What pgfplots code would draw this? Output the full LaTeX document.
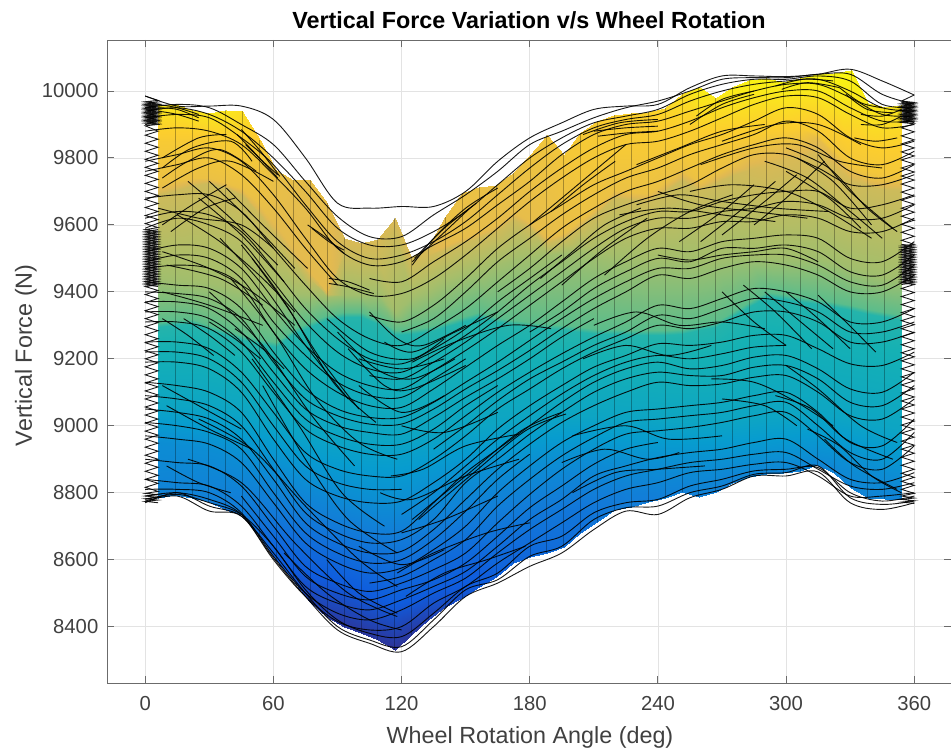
\documentclass[border=0pt]{standalone}
\usepackage{fontspec}
\setmainfont{Liberation Sans}
\usepackage{pgfplots}
\pgfplotsset{compat=1.18}
\definecolor{axc}{gray}{0.42}
\definecolor{txc}{gray}{0.25}
\pgfplotsset{L/.style={black,line width=0.68pt,smooth,tension=0.55,opacity=0.9,mark=none}}
\newcommand\cv[2][]{\addplot[L,#1] table[x expr=\coordindex*15,y index=0,row sep=crcr]{#2};}
\newcommand\fr[1]{\addplot[L] coordinates {#1};}
\begin{document}
\begin{tikzpicture}
\path[use as bounding box] (0,0) rectangle (713.25pt,565.5pt);
\begin{axis}[
  at={(80.25pt,53.25pt)},anchor=south west,scale only axis,width=633pt,height=482.25pt,
  xmin=-17.9,xmax=377.2,ymin=8231.5,ymax=10152.4,
  xtick={0,60,...,360},ytick={8400,8600,...,10000},
  scaled y ticks=false,
  grid=major,grid style={gray!22,line width=0.6pt},
  axis line style={axc,line width=0.7pt},
  tick style={axc,line width=0.7pt},
  major tick length=5pt,tick align=inside,
  tick label style={font=\fontsize{15.2}{16}\selectfont,text=txc},
  yticklabel style={xshift=-3pt},
  xticklabel style={yshift=-6.5pt},
  /pgf/number format/assume math mode=true,
  /pgf/number format/fixed,/pgf/number format/precision=0,
  /pgf/number format/1000 sep={},
  colormap={parula}{rgb255=(53,42,135) rgb255=(15,92,221) rgb255=(18,125,216) rgb255=(7,156,207) rgb255=(21,177,180) rgb255=(89,189,140) rgb255=(165,190,107) rgb255=(225,185,82) rgb255=(252,206,46) rgb255=(249,251,14)},
  point meta min=0,point meta max=1,
  clip=true
]
\addplot[surf,shader=interp,mesh/rows=12,mesh/cols=45,mesh/ordering=x varies,point meta=explicit] coordinates {
(6,8784)[.23](13.9,8793)[.23](21.8,8785)[.23](29.7,8772)[.22](37.6,8748)[.20](45.5,8733)[.18](53.5,8667)[.15](61.4,8600)[.12](69.3,8540)[.09](77.2,8474)[.05](85.1,8429)[.04](93,8398)[.03](100.9,8380)[.03](108.8,8360)[.03](116.7,8330)[.02](124.6,8375)[.03](132.5,8420)[.05](140.5,8459)[.07](148.4,8486)[.09](156.3,8519)[.11](164.2,8549)[.12](172.1,8590)[.14](180,8608)[.15](187.9,8620)[.16](195.8,8638)[.17](203.7,8680)[.18](211.6,8713)[.20](219.5,8749)[.21](227.5,8758)[.22](235.4,8773)[.22](243.3,8784)[.23](251.2,8802)[.23](259.1,8787)[.23](267,8802)[.23](274.9,8829)[.23](282.8,8847)[.24](290.7,8856)[.24](298.6,8860)[.24](306.5,8866)[.24](314.5,8883)[.24](322.4,8860)[.24](330.3,8814)[.24](338.2,8784)[.24](346.1,8781)[.24](354,8781)[.24]
(6,8790)[.23](13.9,8798)[.23](21.8,8790)[.23](29.7,8778)[.22](37.6,8752)[.20](45.5,8736)[.18](53.5,8670)[.15](61.4,8604)[.12](69.3,8585)[.12](77.2,8570)[.12](85.1,8560)[.12](93,8540)[.12](100.9,8520)[.12](108.8,8500)[.12](116.7,8480)[.12](124.6,8490)[.12](132.5,8510)[.12](140.5,8530)[.12](148.4,8550)[.12](156.3,8565)[.12](164.2,8575)[.14](172.1,8595)[.14](180,8612)[.15](187.9,8624)[.16](195.8,8642)[.17](203.7,8684)[.18](211.6,8717)[.20](219.5,8752)[.21](227.5,8761)[.22](235.4,8776)[.22](243.3,8787)[.23](251.2,8805)[.23](259.1,8790)[.23](267,8805)[.23](274.9,8832)[.23](282.8,8850)[.24](290.7,8859)[.24](298.6,8863)[.24](306.5,8869)[.24](314.5,8886)[.24](322.4,8863)[.24](330.3,8817)[.24](338.2,8787)[.24](346.1,8784)[.24](354,8784)[.24]
(6,8795)[.24](13.9,8802)[.24](21.8,8795)[.24](29.7,8782)[.23](37.6,8758)[.22](45.5,8740)[.21](53.5,8730)[.20](61.4,8722)[.20](69.3,8710)[.20](77.2,8700)[.20](85.1,8690)[.20](93,8670)[.20](100.9,8655)[.20](108.8,8645)[.20](116.7,8638)[.20](124.6,8645)[.20](132.5,8660)[.20](140.5,8675)[.20](148.4,8690)[.20](156.3,8695)[.20](164.2,8705)[.20](172.1,8715)[.20](180,8725)[.20](187.9,8735)[.20](195.8,8745)[.20](203.7,8760)[.20](211.6,8770)[.21](219.5,8790)[.22](227.5,8795)[.23](235.4,8800)[.23](243.3,8805)[.24](251.2,8812)[.24](259.1,8800)[.24](267,8812)[.24](274.9,8838)[.24](282.8,8855)[.25](290.7,8864)[.25](298.6,8868)[.25](306.5,8874)[.25](314.5,8890)[.25](322.4,8868)[.25](330.3,8822)[.25](338.2,8792)[.25](346.1,8790)[.25](354,8790)[.25]
(6,8950)[.28](13.9,8945)[.28](21.8,8940)[.28](29.7,8930)[.28](37.6,8915)[.28](45.5,8900)[.28](53.5,8885)[.28](61.4,8870)[.28](69.3,8850)[.28](77.2,8830)[.28](85.1,8815)[.28](93,8795)[.28](100.9,8780)[.28](108.8,8772)[.28](116.7,8768)[.28](124.6,8775)[.28](132.5,8795)[.28](140.5,8815)[.28](148.4,8835)[.28](156.3,8850)[.28](164.2,8865)[.28](172.1,8875)[.28](180,8880)[.28](187.9,8890)[.28](195.8,8895)[.28](203.7,8900)[.28](211.6,8900)[.28](219.5,8890)[.28](227.5,8885)[.28](235.4,8880)[.28](243.3,8880)[.28](251.2,8880)[.28](259.1,8880)[.28](267,8880)[.28](274.9,8885)[.28](282.8,8890)[.28](290.7,8895)[.28](298.6,8900)[.28](306.5,8905)[.28](314.5,8910)[.28](322.4,8900)[.28](330.3,8890)[.28](338.2,8875)[.28](346.1,8860)[.28](354,8850)[.28]
(6,9060)[.38](13.9,9060)[.38](21.8,9060)[.38](29.7,9060)[.38](37.6,9050)[.38](45.5,9040)[.38](53.5,9025)[.38](61.4,9010)[.38](69.3,8995)[.38](77.2,8980)[.38](85.1,8970)[.38](93,8962)[.38](100.9,8960)[.38](108.8,8960)[.38](116.7,8960)[.38](124.6,8968)[.38](132.5,8975)[.38](140.5,8985)[.38](148.4,8995)[.38](156.3,9000)[.38](164.2,9010)[.38](172.1,9015)[.38](180,9020)[.38](187.9,9025)[.38](195.8,9030)[.38](203.7,9030)[.38](211.6,9030)[.38](219.5,9025)[.38](227.5,9020)[.38](235.4,9020)[.38](243.3,9015)[.38](251.2,9010)[.38](259.1,9010)[.38](267,9010)[.38](274.9,9015)[.38](282.8,9020)[.38](290.7,9025)[.38](298.6,9030)[.38](306.5,9035)[.38](314.5,9035)[.38](322.4,9030)[.38](330.3,9020)[.38](338.2,9010)[.38](346.1,9000)[.38](354,8990)[.38]
(6,9295)[.47](13.9,9300)[.47](21.8,9305)[.47](29.7,9285)[.47](37.6,9270)[.47](45.5,9255)[.47](53.5,9245)[.47](61.4,9235)[.47](69.3,9275)[.47](77.2,9295)[.47](85.1,9315)[.47](93,9325)[.47](100.9,9325)[.47](108.8,9305)[.47](116.7,9270)[.47](124.6,9275)[.47](132.5,9280)[.47](140.5,9295)[.47](148.4,9310)[.47](156.3,9325)[.47](164.2,9310)[.47](172.1,9300)[.47](180,9295)[.47](187.9,9290)[.47](195.8,9285)[.47](203.7,9280)[.47](211.6,9275)[.47](219.5,9275)[.47](227.5,9270)[.47](235.4,9270)[.47](243.3,9270)[.47](251.2,9275)[.47](259.1,9285)[.47](267,9295)[.47](274.9,9325)[.47](282.8,9355)[.47](290.7,9385)[.47](298.6,9380)[.47](306.5,9370)[.47](314.5,9365)[.47](322.4,9355)[.47](330.3,9345)[.47](338.2,9335)[.47](346.1,9325)[.47](354,9315)[.47]
(6,9310)[.56](13.9,9315)[.56](21.8,9320)[.56](29.7,9300)[.56](37.6,9285)[.56](45.5,9270)[.56](53.5,9260)[.56](61.4,9250)[.56](69.3,9290)[.56](77.2,9310)[.56](85.1,9330)[.56](93,9340)[.56](100.9,9340)[.56](108.8,9320)[.56](116.7,9285)[.56](124.6,9290)[.56](132.5,9295)[.56](140.5,9310)[.56](148.4,9325)[.56](156.3,9340)[.56](164.2,9325)[.56](172.1,9315)[.56](180,9310)[.56](187.9,9305)[.56](195.8,9300)[.56](203.7,9295)[.56](211.6,9290)[.56](219.5,9290)[.56](227.5,9285)[.56](235.4,9285)[.56](243.3,9285)[.56](251.2,9290)[.56](259.1,9300)[.56](267,9310)[.56](274.9,9340)[.56](282.8,9370)[.56](290.7,9400)[.56](298.6,9395)[.56](306.5,9385)[.56](314.5,9380)[.56](322.4,9370)[.56](330.3,9360)[.56](338.2,9350)[.56](346.1,9340)[.56](354,9330)[.56]
(6,9440)[.66](13.9,9435)[.66](21.8,9430)[.66](29.7,9425)[.66](37.6,9418)[.66](45.5,9410)[.66](53.5,9405)[.66](61.4,9400)[.66](69.3,9395)[.66](77.2,9390)[.66](85.1,9385)[.66](93,9390)[.66](100.9,9392)[.66](108.8,9395)[.66](116.7,9340)[.66](124.6,9380)[.66](132.5,9400)[.66](140.5,9425)[.66](148.4,9445)[.66](156.3,9460)[.66](164.2,9480)[.66](172.1,9495)[.66](180,9500)[.66](187.9,9510)[.66](195.8,9515)[.66](203.7,9520)[.66](211.6,9510)[.66](219.5,9500)[.66](227.5,9495)[.66](235.4,9490)[.66](243.3,9490)[.66](251.2,9490)[.66](259.1,9490)[.66](267,9495)[.66](274.9,9500)[.66](282.8,9505)[.66](290.7,9500)[.66](298.6,9500)[.66](306.5,9500)[.66](314.5,9500)[.66](322.4,9490)[.66](330.3,9470)[.66](338.2,9455)[.66](346.1,9445)[.66](354,9440)[.66]
(6,9690)[.74](13.9,9700)[.74](21.8,9715)[.74](29.7,9725)[.74](37.6,9710)[.74](45.5,9690)[.74](53.5,9630)[.74](61.4,9570)[.74](69.3,9505)[.74](77.2,9440)[.74](85.1,9395)[.74](93,9520)[.74](100.9,9510)[.74](108.8,9510)[.74](116.7,9580)[.74](124.6,9480)[.74](132.5,9500)[.74](140.5,9525)[.74](148.4,9545)[.74](156.3,9560)[.74](164.2,9580)[.74](172.1,9615)[.74](180,9590)[.74](187.9,9545)[.74](195.8,9560)[.74](203.7,9595)[.74](211.6,9635)[.74](219.5,9680)[.74](227.5,9675)[.74](235.4,9670)[.74](243.3,9700)[.74](251.2,9735)[.74](259.1,9705)[.74](267,9725)[.74](274.9,9745)[.74](282.8,9765)[.75](290.7,9780)[.76](298.6,9795)[.76](306.5,9800)[.76](314.5,9820)[.76](322.4,9775)[.76](330.3,9730)[.75](338.2,9715)[.74](346.1,9705)[.74](354,9705)[.74]
(6,9720)[.82](13.9,9730)[.82](21.8,9740)[.82](29.7,9740)[.82](37.6,9725)[.82](45.5,9710)[.82](53.5,9660)[.81](61.4,9600)[.79](69.3,9530)[.79](77.2,9460)[.79](85.1,9400)[.79](93,9535)[.75](100.9,9530)[.75](108.8,9540)[.75](116.7,9600)[.75](124.6,9490)[.75](132.5,9510)[.75](140.5,9540)[.79](148.4,9560)[.80](156.3,9580)[.80](164.2,9600)[.80](172.1,9640)[.80](180,9610)[.80](187.9,9560)[.80](195.8,9575)[.81](203.7,9615)[.82](211.6,9655)[.82](219.5,9704)[.82](227.5,9698)[.82](235.4,9695)[.82](243.3,9728)[.82](251.2,9764)[.82](259.1,9728)[.82](267,9755)[.82](274.9,9779)[.82](282.8,9800)[.80](290.7,9815)[.80](298.6,9830)[.80](306.5,9840)[.80](314.5,9860)[.80](322.4,9809)[.80](330.3,9764)[.81](338.2,9743)[.82](346.1,9735)[.82](354,9734)[.82]
(6,9850)[.87](13.9,9850)[.87](21.8,9850)[.87](29.7,9850)[.87](37.6,9840)[.87](45.5,9830)[.87](53.5,9800)[.85](61.4,9740)[.81](69.3,9720)[.80](77.2,9720)[.80](85.1,9650)[.80](93,9550)[.76](100.9,9540)[.76](108.8,9550)[.76](116.7,9610)[.76](124.6,9500)[.76](132.5,9525)[.76](140.5,9615)[.82](148.4,9680)[.82](156.3,9700)[.82](164.2,9710)[.82](172.1,9740)[.82](180,9790)[.83](187.9,9850)[.84](195.8,9800)[.85](203.7,9800)[.86](211.6,9810)[.86](219.5,9815)[.86](227.5,9815)[.86](235.4,9810)[.86](243.3,9820)[.86](251.2,9850)[.88](259.1,9830)[.86](267,9830)[.86](274.9,9850)[.87](282.8,9870)[.88](290.7,9880)[.88](298.6,9880)[.88](306.5,9890)[.88](314.5,9875)[.86](322.4,9825)[.85](330.3,9780)[.85](338.2,9760)[.85](346.1,9750)[.85](354,9750)[.85]
(6,9958)[.95](13.9,9962)[.95](21.8,9943)[.95](29.7,9934)[.95](37.6,9943)[.95](45.5,9940)[.93](53.5,9853)[.88](61.4,9764)[.82](69.3,9734)[.81](77.2,9734)[.81](85.1,9665)[.80](93,9560)[.76](100.9,9545)[.76](108.8,9558)[.76](116.7,9620)[.76](124.6,9504)[.76](132.5,9534)[.78](140.5,9624)[.80](148.4,9695)[.82](156.3,9713)[.82](164.2,9719)[.82](172.1,9755)[.83](180,9809)[.84](187.9,9869)[.85](195.8,9809)[.86](203.7,9874)[.87](211.6,9911)[.88](219.5,9928)[.89](227.5,9934)[.90](235.4,9938)[.90](243.3,9949)[.91](251.2,9991)[.93](259.1,10013)[.97](267,9979)[.95](274.9,10013)[.97](282.8,10033)[.98](290.7,10040)[.98](298.6,10028)[.98](306.5,10039)[.98](314.5,10051)[.99](322.4,10054)[.99](330.3,10063)[.99](338.2,9964)[.96](346.1,9953)[.95](354,9958)[.95]
};
\addplot[black,opacity=.3,line width=.35pt,unbounded coords=jump] coordinates {
(13.9,8793)(13.9,9962)(nan,nan)(21.8,8785)(21.8,9943)(nan,nan)(29.7,8772)(29.7,9934)(nan,nan)(37.6,8748)(37.6,9943)(nan,nan)(45.5,8733)(45.5,9940)(nan,nan)(53.5,8667)(53.5,9853)(nan,nan)(61.4,8600)(61.4,9764)(nan,nan)(69.3,8540)(69.3,9734)(nan,nan)(77.2,8474)(77.2,9734)(nan,nan)(85.1,8429)(85.1,9665)(nan,nan)(93,8398)(93,9560)(nan,nan)(100.9,8380)(100.9,9545)(nan,nan)(108.8,8360)(108.8,9558)(nan,nan)(116.7,8330)(116.7,9620)(nan,nan)(124.6,8375)(124.6,9504)(nan,nan)(132.5,8420)(132.5,9534)(nan,nan)(140.5,8459)(140.5,9624)(nan,nan)(148.4,8486)(148.4,9695)(nan,nan)(156.3,8519)(156.3,9713)(nan,nan)(164.2,8549)(164.2,9719)(nan,nan)(172.1,8590)(172.1,9755)(nan,nan)(180,8608)(180,9809)(nan,nan)(187.9,8620)(187.9,9869)(nan,nan)(195.8,8638)(195.8,9809)(nan,nan)(203.7,8680)(203.7,9874)(nan,nan)(211.6,8713)(211.6,9911)(nan,nan)(219.5,8749)(219.5,9928)(nan,nan)(227.5,8758)(227.5,9934)(nan,nan)(235.4,8773)(235.4,9938)(nan,nan)(243.3,8784)(243.3,9949)(nan,nan)(251.2,8802)(251.2,9991)(nan,nan)(259.1,8787)(259.1,10013)(nan,nan)(267,8802)(267,9979)(nan,nan)(274.9,8829)(274.9,10013)(nan,nan)(282.8,8847)(282.8,10033)(nan,nan)(290.7,8856)(290.7,10040)(nan,nan)(298.6,8860)(298.6,10028)(nan,nan)(306.5,8866)(306.5,10039)(nan,nan)(314.5,8883)(314.5,10051)(nan,nan)(322.4,8860)(322.4,10054)(nan,nan)(330.3,8814)(330.3,10063)(nan,nan)(338.2,8784)(338.2,9964)(nan,nan)(346.1,8781)(346.1,9953)
};
% combs at both ends
\addplot[black,line width=0.65pt,opacity=.9] coordinates {
(0,9985)(6,9972)(0,9968)(6,9964)(0,9960)(6,9956)(0,9952)(6,9948)(0,9944)(6,9940)(0,9936)(6,9932)(0,9928)(6,9924)(0,9920)(6,9916)(0,9912)(6,9908)(0,9904)(6,9900)(0,9896)(6,9880)(0,9868)(6,9856)(0,9844)(6,9832)(0,9820)(6,9808)(0,9796)(6,9784)(0,9772)(6,9760)(0,9748)(6,9736)(0,9724)(6,9712)(0,9700)(6,9688)(0,9676)(6,9664)(0,9652)(6,9640)(0,9628)(6,9616)(0,9604)(6,9592)(0,9586)(6,9581)(0,9576)(6,9571)(0,9566)(6,9561)(0,9556)(6,9551)(0,9546)(6,9541)(0,9536)(6,9531)(0,9526)(6,9521)(0,9516)(6,9511)(0,9506)(6,9501)(0,9496)(6,9491)(0,9486)(6,9481)(0,9476)(6,9471)(0,9466)(6,9461)(0,9456)(6,9451)(0,9446)(6,9441)(0,9436)(6,9431)(0,9426)(6,9421)(0,9416)(6,9404)(0,9392)(6,9380)(0,9368)(6,9356)(0,9344)(6,9332)(0,9320)(6,9308)(0,9296)(6,9284)(0,9272)(6,9260)(0,9248)(6,9236)(0,9224)(6,9212)(0,9200)(6,9188)(0,9176)(6,9164)(0,9152)(6,9140)(0,9128)(6,9116)(0,9104)(6,9092)(0,9080)(6,9068)(0,9056)(6,9044)(0,9032)(6,9020)(0,9008)(6,8996)(0,8984)(6,8972)(0,8960)(6,8948)(0,8936)(6,8924)(0,8912)(6,8900)(0,8888)(6,8876)(0,8864)(6,8852)(0,8840)(6,8828)(0,8816)(6,8804)(0,8798)(6,8794)(0,8790)(6,8786)(0,8782)(6,8778)(0,8774)(6,8770)
};
\addplot[black,line width=0.65pt,opacity=.9] coordinates {
(6,9586)(0,9581)(6,9576)(0,9571)(6,9566)(0,9561)(6,9556)(0,9551)(6,9546)(0,9541)(6,9536)(0,9531)(6,9526)(0,9521)(6,9516)(0,9511)(6,9506)(0,9501)(6,9496)(0,9491)(6,9486)(0,9481)(6,9476)(0,9471)(6,9466)(0,9461)(6,9456)(0,9451)(6,9446)(0,9441)(6,9436)(0,9431)(6,9426)(0,9421)(6,9416)
};
\addplot[black,line width=0.65pt,opacity=.9] coordinates {
(6,9968)(0,9964)(6,9960)(0,9956)(6,9952)(0,9948)(6,9944)(0,9940)(6,9936)(0,9932)(6,9928)(0,9924)(6,9920)(0,9916)(6,9912)(0,9908)(6,9904)(0,9900)
};
\addplot[black,line width=0.65pt,opacity=.9] coordinates {
(360,9988)(354,9970)(360,9966)(354,9962)(360,9958)(354,9954)(360,9950)(354,9946)(360,9942)(354,9938)(360,9934)(354,9930)(360,9926)(354,9922)(360,9918)(354,9914)(360,9910)(354,9906)(360,9902)(354,9890)(360,9878)(354,9866)(360,9854)(354,9842)(360,9830)(354,9818)(360,9806)(354,9794)(360,9782)(354,9770)(360,9758)(354,9746)(360,9734)(354,9722)(360,9710)(354,9698)(360,9686)(354,9674)(360,9662)(354,9650)(360,9638)(354,9626)(360,9614)(354,9602)(360,9590)(354,9578)(360,9566)(354,9554)(360,9542)(354,9537)(360,9532)(354,9527)(360,9522)(354,9517)(360,9512)(354,9507)(360,9502)(354,9497)(360,9492)(354,9487)(360,9482)(354,9477)(360,9472)(354,9467)(360,9462)(354,9457)(360,9452)(354,9447)(360,9442)(354,9437)(360,9432)(354,9427)(360,9422)(354,9410)(360,9398)(354,9386)(360,9374)(354,9362)(360,9350)(354,9338)(360,9326)(354,9314)(360,9302)(354,9290)(360,9278)(354,9266)(360,9254)(354,9242)(360,9230)(354,9218)(360,9206)(354,9194)(360,9182)(354,9170)(360,9158)(354,9146)(360,9134)(354,9122)(360,9110)(354,9098)(360,9086)(354,9074)(360,9062)(354,9050)(360,9038)(354,9026)(360,9014)(354,9002)(360,8990)(354,8978)(360,8966)(354,8954)(360,8942)(354,8930)(360,8918)(354,8906)(360,8894)(354,8882)(360,8870)(354,8858)(360,8846)(354,8834)(360,8822)(354,8810)(360,8798)(354,8790)(360,8784)(354,8780)(360,8776)(354,8772)(360,8768)
};
\addplot[black,line width=0.65pt,opacity=.9] coordinates {
(354,9542)(360,9537)(354,9532)(360,9527)(354,9522)(360,9517)(354,9512)(360,9507)(354,9502)(360,9497)(354,9492)(360,9487)(354,9482)(360,9477)(354,9472)(360,9467)(354,9462)(360,9457)(354,9452)(360,9447)(354,9442)(360,9437)(354,9432)(360,9427)(354,9422)
};
\addplot[black,line width=0.65pt,opacity=.9] coordinates {
(354,9966)(360,9962)(354,9958)(360,9954)(354,9950)(360,9946)(354,9942)(360,9938)(354,9934)(360,9930)(354,9926)(360,9922)(354,9918)(360,9914)(354,9910)(360,9906)
};
% full curves, one value every 15 deg
\cv{9985\\9955\\9955\\9955\\9915\\9800\\9665\\9650\\9655\\9655\\9700\\9790\\9860\\9905\\9945\\9955\\9960\\10010\\10045\\10045\\10043\\10050\\10065\\10030\\9988\\}
\cv{9950\\9960\\9950\\9900\\9840\\9730\\9625\\9565\\9565\\9630\\9690\\9760\\9840\\9880\\9920\\9950\\9970\\10000\\10035\\10040\\10040\\10050\\10050\\9990\\9960\\}
\cv{9940\\9950\\9930\\9880\\9800\\9700\\9590\\9540\\9540\\9580\\9640\\9720\\9800\\9860\\9905\\9925\\9945\\9990\\10020\\10035\\10035\\10045\\10030\\9960\\9950\\}
\cv{9920\\9930\\9920\\9860\\9780\\9660\\9550\\9500\\9510\\9550\\9610\\9690\\9770\\9840\\9890\\9915\\9930\\9970\\10000\\10020\\10030\\10035\\10000\\9950\\9940\\}
\cv{9880\\9890\\9880\\9840\\9750\\9650\\9530\\9480\\9490\\9540\\9590\\9660\\9730\\9810\\9870\\9900\\9910\\9940\\9970\\10000\\10020\\10020\\9980\\9930\\9925\\}
\cv[restrict x to domain=100:360]{9840\\9860\\9860\\9810\\9720\\9590\\9480\\9440\\9430\\9490\\9550\\9620\\9700\\9770\\9830\\9870\\9880\\9910\\9950\\9980\\10000\\10000\\9950\\9910\\9910\\}
\cv{9790\\9810\\9830\\9790\\9690\\9560\\9440\\9390\\9395\\9440\\9510\\9590\\9670\\9740\\9800\\9840\\9850\\9880\\9920\\9960\\9985\\9980\\9930\\9890\\9900\\}
\cv[restrict x to domain=0:90]{9760\\9780\\9800\\9750\\9650\\9530\\9420\\9360\\9350\\9400\\9470\\9560\\9640\\9700\\9760\\9800\\9830\\9860\\9900\\9940\\9970\\9960\\9900\\9860\\9880\\}
\cv[restrict x to domain=100:360]{9720\\9740\\9760\\9710\\9600\\9500\\9400\\9330\\9310\\9360\\9440\\9530\\9600\\9660\\9720\\9760\\9800\\9840\\9870\\9910\\9950\\9930\\9860\\9830\\9850\\}
\cv[restrict x to domain=120:360]{9700\\9700\\9720\\9660\\9560\\9460\\9360\\9300\\9280\\9320\\9400\\9490\\9560\\9630\\9690\\9740\\9770\\9810\\9840\\9870\\9910\\9880\\9800\\9780\\9820\\}
\cv{9680\\9690\\9690\\9640\\9530\\9420\\9320\\9260\\9240\\9290\\9350\\9430\\9510\\9590\\9650\\9700\\9730\\9770\\9810\\9840\\9860\\9830\\9760\\9740\\9780\\}
\cv[restrict x to domain=160:360]{9650\\9670\\9660\\9610\\9500\\9380\\9290\\9230\\9210\\9260\\9320\\9400\\9470\\9550\\9620\\9660\\9690\\9720\\9770\\9810\\9810\\9770\\9720\\9720\\9750\\}
\cv[restrict x to domain=0:200]{9620\\9640\\9630\\9580\\9470\\9350\\9260\\9200\\9185\\9230\\9290\\9370\\9440\\9510\\9590\\9640\\9650\\9670\\9700\\9740\\9760\\9730\\9690\\9700\\9720\\}
\cv{9590\\9620\\9600\\9550\\9430\\9310\\9220\\9170\\9160\\9210\\9270\\9340\\9420\\9490\\9560\\9610\\9640\\9640\\9670\\9690\\9700\\9700\\9650\\9660\\9690\\}
\cv[restrict x to domain=100:360]{9560\\9580\\9560\\9510\\9390\\9270\\9190\\9150\\9140\\9190\\9250\\9320\\9390\\9460\\9530\\9590\\9620\\9620\\9640\\9650\\9670\\9660\\9620\\9620\\9660\\}
\cv{9520\\9540\\9530\\9470\\9350\\9240\\9160\\9120\\9110\\9165\\9225\\9290\\9360\\9430\\9500\\9560\\9590\\9590\\9610\\9610\\9630\\9620\\9580\\9580\\9620\\}
\cv[restrict x to domain=0:150]{9490\\9510\\9500\\9440\\9310\\9210\\9130\\9090\\9085\\9140\\9200\\9260\\9330\\9400\\9470\\9530\\9560\\9560\\9580\\9590\\9610\\9590\\9540\\9530\\9580\\}
\cv{9470\\9480\\9470\\9420\\9280\\9170\\9100\\9060\\9055\\9110\\9175\\9240\\9300\\9370\\9440\\9490\\9530\\9520\\9550\\9560\\9570\\9560\\9500\\9490\\9550\\}
\cv[restrict x to domain=170:360]{9450\\9450\\9440\\9380\\9250\\9140\\9070\\9040\\9035\\9090\\9150\\9210\\9280\\9340\\9410\\9460\\9500\\9490\\9530\\9530\\9540\\9520\\9460\\9450\\9510\\}
\cv{9430\\9420\\9410\\9350\\9220\\9110\\9050\\9025\\9025\\9070\\9130\\9190\\9255\\9320\\9380\\9430\\9470\\9470\\9500\\9510\\9510\\9480\\9430\\9420\\9480\\}
\cv{9400\\9395\\9380\\9320\\9190\\9080\\9030\\9005\\9005\\9050\\9110\\9165\\9225\\9290\\9350\\9400\\9450\\9440\\9470\\9490\\9480\\9450\\9400\\9400\\9450\\}
\cv[restrict x to domain=0:210]{9370\\9370\\9350\\9280\\9160\\9050\\9000\\8980\\8975\\9025\\9085\\9140\\9200\\9265\\9320\\9370\\9420\\9410\\9440\\9470\\9450\\9420\\9370\\9370\\9420\\}
\cv[restrict x to domain=0:170]{9340\\9340\\9320\\9250\\9130\\9020\\8970\\8945\\8945\\8990\\9060\\9120\\9180\\9240\\9290\\9340\\9390\\9380\\9410\\9440\\9430\\9400\\9340\\9340\\9390\\}
\cv{9310\\9310\\9290\\9220\\9100\\8990\\8940\\8915\\8915\\8960\\9030\\9100\\9160\\9215\\9265\\9310\\9360\\9350\\9380\\9410\\9400\\9370\\9310\\9310\\9350\\}
\cv[restrict x to domain=130:360]{9280\\9280\\9260\\9190\\9070\\8960\\8905\\8880\\8880\\8930\\9000\\9075\\9140\\9190\\9240\\9280\\9330\\9320\\9350\\9380\\9370\\9340\\9280\\9280\\9310\\}
\cv{9250\\9250\\9230\\9160\\9040\\8920\\8870\\8850\\8850\\8900\\8970\\9050\\9110\\9170\\9220\\9260\\9300\\9290\\9310\\9340\\9340\\9310\\9250\\9250\\9280\\}
\cv[restrict x to domain=0:130]{9220\\9220\\9200\\9130\\9000\\8880\\8830\\8810\\8810\\8860\\8930\\9020\\9085\\9140\\9200\\9235\\9270\\9270\\9280\\9300\\9300\\9270\\9220\\9210\\9250\\}
\cv{9190\\9190\\9170\\9100\\8960\\8840\\8790\\8770\\8775\\8830\\8900\\8990\\9060\\9120\\9175\\9210\\9245\\9240\\9250\\9270\\9270\\9230\\9185\\9180\\9220\\}
\cv[restrict x to domain=110:300]{9160\\9160\\9140\\9070\\8930\\8800\\8750\\8730\\8735\\8800\\8880\\8960\\9030\\9095\\9150\\9190\\9210\\9200\\9215\\9235\\9240\\9200\\9150\\9140\\9190\\}
\cv{9130\\9120\\9100\\9040\\8900\\8770\\8710\\8680\\8685\\8770\\8860\\8930\\9000\\9070\\9130\\9170\\9190\\9170\\9180\\9205\\9210\\9170\\9110\\9100\\9160\\}
\cv{9090\\9080\\9060\\9000\\8870\\8740\\8680\\8650\\8660\\8720\\8830\\8900\\8975\\9040\\9100\\9140\\9160\\9150\\9150\\9175\\9180\\9140\\9070\\9060\\9120\\}
\cv{9050\\9040\\9020\\8960\\8840\\8710\\8650\\8620\\8625\\8690\\8780\\8870\\8945\\9010\\9060\\9100\\9130\\9120\\9125\\9145\\9150\\9100\\9030\\9020\\9080\\}
\cv[restrict x to domain=0:180]{9010\\9000\\8980\\8930\\8800\\8680\\8620\\8590\\8600\\8660\\8745\\8840\\8915\\8980\\9030\\9070\\9090\\9090\\9100\\9120\\9125\\9070\\8990\\8980\\9050\\}
\cv{8970\\8960\\8945\\8890\\8770\\8650\\8590\\8560\\8575\\8630\\8700\\8800\\8880\\8950\\9000\\9040\\9050\\9060\\9070\\9090\\9100\\9040\\8950\\8940\\9020\\}
\cv[restrict x to domain=100:360]{8930\\8920\\8910\\8850\\8730\\8610\\8555\\8530\\8550\\8600\\8660\\8760\\8840\\8910\\8965\\9010\\9020\\9030\\9040\\9060\\9070\\9000\\8920\\8900\\8980\\}
\cv{8900\\8890\\8880\\8820\\8700\\8580\\8530\\8505\\8530\\8570\\8620\\8710\\8795\\8870\\8930\\8975\\8985\\8995\\9010\\9030\\9040\\8970\\8890\\8870\\8940\\}
\cv[restrict x to domain=40:250]{8870\\8860\\8850\\8790\\8670\\8550\\8500\\8480\\8510\\8540\\8590\\8670\\8755\\8820\\8885\\8930\\8950\\8960\\8970\\8990\\9000\\8940\\8860\\8850\\8900\\}
\cv{8840\\8830\\8820\\8760\\8640\\8520\\8470\\8450\\8480\\8520\\8565\\8640\\8720\\8780\\8850\\8880\\8905\\8920\\8930\\8950\\8960\\8900\\8840\\8830\\8860\\}
\cv{8810\\8810\\8800\\8740\\8610\\8500\\8440\\8420\\8450\\8500\\8545\\8620\\8690\\8750\\8810\\8850\\8870\\8890\\8900\\8915\\8920\\8870\\8820\\8810\\8830\\}
\cv{8790\\8800\\8780\\8735\\8600\\8490\\8415\\8390\\8400\\8470\\8520\\8590\\8650\\8710\\8770\\8810\\8830\\8860\\8870\\8885\\8890\\8850\\8790\\8790\\8800\\}
\cv{8775\\8790\\8745\\8730\\8605\\8490\\8390\\8350\\8325\\8400\\8490\\8530\\8580\\8620\\8690\\8745\\8735\\8785\\8810\\8850\\8850\\8862\\8770\\8750\\8770\\}
\cv{8770\\8800\\8760\\8730\\8620\\8500\\8400\\8360\\8340\\8420\\8510\\8540\\8610\\8640\\8720\\8755\\8760\\8800\\8820\\8855\\8860\\8880\\8785\\8765\\8775\\}
\cv{8780\\8795\\8770\\8735\\8640\\8510\\8420\\8380\\8370\\8440\\8520\\8560\\8640\\8670\\8740\\8770\\8780\\8820\\8840\\8865\\8870\\8875\\8800\\8775\\8790\\}
% short pieces
\fr{(6,9950)(15,9945)(25,9920)}\fr{(6,9940)(15,9930)(25,9910)}\fr{(6,9960)(15,9950)(25,9930)}
\fr{(43,9870)(52,9810)(62,9740)}\fr{(45,9885)(54,9820)(63,9745)}\fr{(47,9840)(55,9790)(62,9750)}
\fr{(8,9800)(25,9860)(38,9870)}\fr{(8,9770)(22,9830)(40,9850)(50,9790)}\fr{(8,9740)(20,9790)(35,9825)(52,9760)}\fr{(8,9710)(25,9770)(40,9790)(60,9730)}
\fr{(76,9600)(85,9560)(93,9515)}\fr{(78,9590)(86,9550)(93,9525)}\fr{(86,9440)(95,9430)(105,9405)}\fr{(86,9425)(95,9415)(107,9395)}
\fr{(125,9480)(135,9560)(150,9650)(165,9710)}\fr{(125,9490)(137,9560)(152,9650)}\fr{(126,9500)(140,9590)(155,9665)}
\fr{(205,9870)(222,9905)(240,9915)}\fr{(210,9880)(225,9890)(240,9895)}\fr{(212,9865)(226,9875)(240,9880)}
\fr{(258,9925)(270,9975)(285,10000)}\fr{(255,9900)(270,9960)(285,9990)}
\fr{(295,10015)(308,10035)(322,10030)}\fr{(298,10005)(310,10025)(325,10010)}
\fr{(325,10010)(335,9965)(345,9950)}\fr{(328,9990)(338,9945)(350,9935)}
\fr{(335,9930)(345,9925)(354,9945)}\fr{(335,9900)(345,9900)(354,9925)}\fr{(332,9860)(342,9850)(352,9860)}
\fr{(240,9510)(255,9495)(270,9510)(285,9520)(300,9530)(315,9490)}
\fr{(280,9420)(295,9340)(312,9230)}\fr{(290,9400)(305,9320)(322,9230)}\fr{(300,9400)(315,9320)(330,9230)}\fr{(315,9390)(328,9310)(342,9220)}\fr{(270,9400)(285,9310)(300,9240)}
\fr{(8,9320)(20,9270)(32,9210)}\fr{(18,9320)(30,9270)(42,9210)}\fr{(30,9310)(42,9260)(54,9200)}\fr{(42,9290)(55,9230)(65,9170)}
\fr{(250,9550)(270,9640)(285,9720)}\fr{(260,9550)(278,9640)(295,9730)}\fr{(270,9570)(290,9670)(305,9750)}\fr{(285,9600)(300,9680)(318,9790)}
\fr{(305,9800)(322,9730)(340,9600)}\fr{(315,9810)(330,9700)(350,9590)}\fr{(300,9760)(320,9680)(335,9590)}
\fr{(8,9600)(22,9660)(38,9720)}\fr{(12,9580)(28,9650)(42,9680)}
\fr{(20,9730)(40,9620)(62,9480)}\fr{(30,9730)(48,9620)(70,9470)}\fr{(38,9710)(55,9600)(76,9470)}
\fr{(100,9200)(120,9170)(140,9200)}\fr{(100,9120)(120,9040)(140,9090)}\fr{(100,8640)(120,8585)(140,8630)}
\fr{(125,8720)(150,8850)(176,8985)(195,9040)}\fr{(128,8720)(152,8850)(178,8985)(197,9035)}
\fr{(35,9560)(55,9420)(75,9240)(95,9080)}\fr{(45,9540)(62,9400)(82,9200)(100,9050)}\fr{(50,9500)(68,9340)(88,9130)(108,9010)}
\fr{(40,9440)(60,9280)(80,9080)(100,8950)(118,8900)}\fr{(30,9400)(55,9240)(78,9030)(98,8880)}\fr{(50,9200)(72,9000)(92,8800)(112,8700)}
\fr{(55,9120)(75,8900)(95,8720)(118,8620)}\fr{(25,9020)(50,8930)(75,8760)(100,8600)(118,8520)}\fr{(20,8900)(45,8830)(70,8650)(95,8500)(118,8430)}
\fr{(10,8880)(25,8830)(40,8800)}\fr{(8,9120)(25,9060)(45,8990)}\fr{(10,9060)(30,8990)(50,8930)}
\fr{(65,8620)(85,8500)(105,8420)(120,8390)}\fr{(85,8600)(100,8500)(118,8440)}
\fr{(8,9520)(30,9470)(50,9400)(70,9300)}\fr{(10,9480)(35,9440)(55,9360)}\fr{(8,9400)(30,9360)(55,9300)}
\fr{(15,9630)(35,9550)(55,9440)(70,9340)}\fr{(25,9680)(45,9570)(65,9430)}\fr{(6,9650)(25,9620)(45,9600)(60,9530)}
\fr{(85,9320)(105,9220)(125,9200)(140,9260)}\fr{(90,9280)(108,9170)(125,9140)(145,9200)}\fr{(95,9230)(112,9120)(125,9110)(150,9180)}
\fr{(105,9340)(118,9260)(130,9240)(150,9300)}\fr{(112,9250)(125,9220)(145,9280)(165,9340)}\fr{(125,9190)(145,9250)(170,9300)(190,9290)}
\fr{(120,9000)(140,8980)(165,9040)}\fr{(115,8850)(130,8870)(150,8940)(175,8975)}\fr{(110,8800)(125,8780)(150,8850)(175,8900)}
\fr{(120,8680)(140,8720)(165,8790)}\fr{(118,8560)(135,8620)(160,8680)(180,8710)}\fr{(122,8490)(140,8560)(160,8600)(178,8640)}
\fr{(180,9600)(195,9680)(210,9760)(225,9840)}\fr{(190,9640)(205,9720)(220,9790)}\fr{(185,9440)(200,9520)(215,9600)(232,9650)}
\fr{(195,9420)(215,9530)(235,9620)}\fr{(215,9450)(235,9560)(255,9640)(275,9690)}\fr{(230,9660)(250,9690)(270,9670)(295,9650)(320,9640)}
\fr{(240,9700)(260,9660)(285,9640)(310,9620)}\fr{(222,9630)(245,9650)(270,9630)(295,9610)}\fr{(255,9700)(275,9720)(300,9700)(320,9640)(340,9560)}
\fr{(290,9790)(310,9740)(330,9640)(345,9560)}\fr{(300,9830)(320,9770)(338,9650)(352,9580)}\fr{(260,9780)(285,9830)(305,9840)(325,9790)(345,9770)}
\fr{(270,9850)(295,9900)(315,9900)(335,9840)}\fr{(230,9780)(250,9830)(270,9880)(290,9900)}
\fr{(210,9300)(230,9340)(250,9300)(270,9310)(290,9290)}\fr{(205,9200)(225,9240)(245,9210)(265,9240)}
\fr{(300,9180)(315,9110)(335,9000)(352,8950)}\fr{(295,9090)(312,9050)(328,8960)(350,8900)}\fr{(310,8990)(325,8940)(340,8850)(354,8800)}\fr{(318,8960)(332,8880)(352,8810)}
\fr{(200,8970)(225,9000)(245,8960)(270,8970)}\fr{(195,8890)(215,8930)(235,8900)(250,8920)}\fr{(200,8800)(220,8860)(240,8870)(262,8880)}
\fr{(270,9080)(290,9060)(305,9000)}\fr{(265,9140)(285,9130)(305,9070)(322,9000)}
\end{axis}
\node[anchor=base,font=\fontsize{17.5}{19}\selectfont\bfseries] at (396.75pt,544pt) {Vertical Force Variation v/s Wheel Rotation};
\node[anchor=base,text=txc,font=\fontsize{17.5}{19}\selectfont] at (397.5pt,7.5pt) {Wheel Rotation Angle (deg)};
\node[anchor=base,rotate=90,text=txc,font=\fontsize{17.5}{19}\selectfont] at (24pt,299pt) {Vertical Force (N)};
\end{tikzpicture}
\end{document}
